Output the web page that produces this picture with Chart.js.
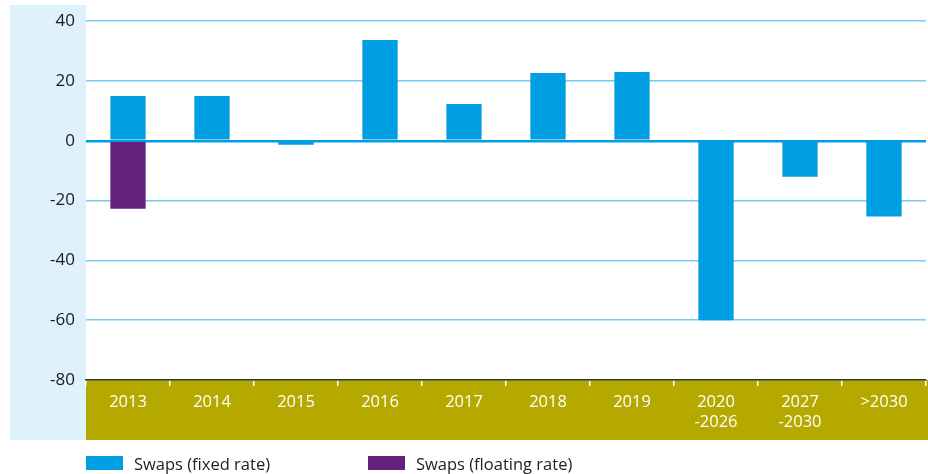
<!DOCTYPE html>
<html>
<head>
<meta charset="utf-8">
<script src="https://cdn.jsdelivr.net/npm/chart.js@4"></script>
<style>
  html, body { margin: 0; padding: 0; background: #fff; }
  #wrap { position: relative; width: 928px; height: 474px; }
  canvas { position: absolute; left: 0; top: 0; }
  .leg { position: absolute; top: 452px; height: 22px; display: flex; align-items: center;
         font-family: "Open Sans", sans-serif; font-size: 16.5px; color: #222; }
  .leg span.box { display: inline-block; width: 37px; height: 14px; margin-right: 11px; }
</style>
</head>
<body>
<div id="wrap">
  <canvas id="c" width="928" height="474"></canvas>
  <div class="leg" style="left:86px"><span class="box" id="b1"></span><span id="t1"></span></div>
  <div class="leg" style="left:368px"><span class="box" id="b2"></span><span id="t2"></span></div>
</div>
<script>
const categories = [["2013"], ["2014"], ["2015"], ["2016"], ["2017"], ["2018"], ["2019"], ["2020", "-2026"], ["2027", "-2030"], [">2030"]];
const fixedRate = [15, 15, -1.3, 33.7, 12.3, 22.7, 23, -60, -12, -25.3];
const floatingRate = [-22.7, null, null, null, null, null, null, null, null, null];
const seriesNames = ["Swaps (fixed rate)", "Swaps (floating rate)"];
const yTicks = [40, 20, 0, -20, -40, -60, -80];

const BLUE = "#009fe3";
const PURPLE = "#63217b";
const OLIVE = "#b5a900";
const PANEL = "#dff1fb";

document.getElementById("b1").style.background = BLUE;
document.getElementById("b2").style.background = PURPLE;
document.getElementById("t1").textContent = seriesNames[0];
document.getElementById("t2").textContent = seriesNames[1];

const bgPlugin = {
  id: "bg",
  beforeDraw(chart) {
    const { ctx, chartArea } = chart;
    ctx.save();
    ctx.fillStyle = PANEL;
    ctx.fillRect(10, 5, chartArea.left - 10, 435);
    ctx.fillStyle = OLIVE;
    ctx.fillRect(chartArea.left, chartArea.bottom, chart.width - chartArea.left, 440 - chartArea.bottom);
    ctx.restore();
  }
};

new Chart(document.getElementById("c"), {
  type: "bar",
  data: {
    labels: categories,
    datasets: [
      { label: seriesNames[0], data: fixedRate, backgroundColor: BLUE },
      { label: seriesNames[1], data: floatingRate, backgroundColor: PURPLE }
    ]
  },
  options: {
    responsive: false,
    animation: false,
    events: [],
    layout: { padding: { top: 20, right: 2, bottom: 34, left: 0 } },
    datasets: { bar: { categoryPercentage: 1, barPercentage: 0.42 } },
    plugins: { legend: { display: false }, tooltip: { enabled: false } },
    scales: {
      x: {
        stacked: true,
        afterFit(s) { s.height = 60; },
        border: { display: true, color: "#3a3a20", width: 1.5 },
        grid: { drawOnChartArea: false, drawTicks: true, tickLength: 6, color: "#ffffff", lineWidth: 1.5, offset: true },
        ticks: { color: "#ffffff", padding: 6, font: { family: "Open Sans", size: 16.5, lineHeight: 1.22 } }
      },
      y: {
        stacked: true,
        min: -80, max: 40,
        afterFit(s) { s.width = 86; },
        afterBuildTicks(s) { s.ticks = yTicks.map(v => ({ value: v })); },
        border: { display: false },
        grid: {
          drawTicks: false,
          color: c => (c.tick && c.tick.value === 0) ? BLUE : "#74cdf0",
          lineWidth: c => (c.tick && c.tick.value === 0) ? 2.5 : 1.5
        },
        ticks: { color: "#1a1a1a", padding: 11, font: { family: "Open Sans", size: 17 } }
      }
    }
  },
  plugins: [bgPlugin]
});
</script>
</body>
</html>
